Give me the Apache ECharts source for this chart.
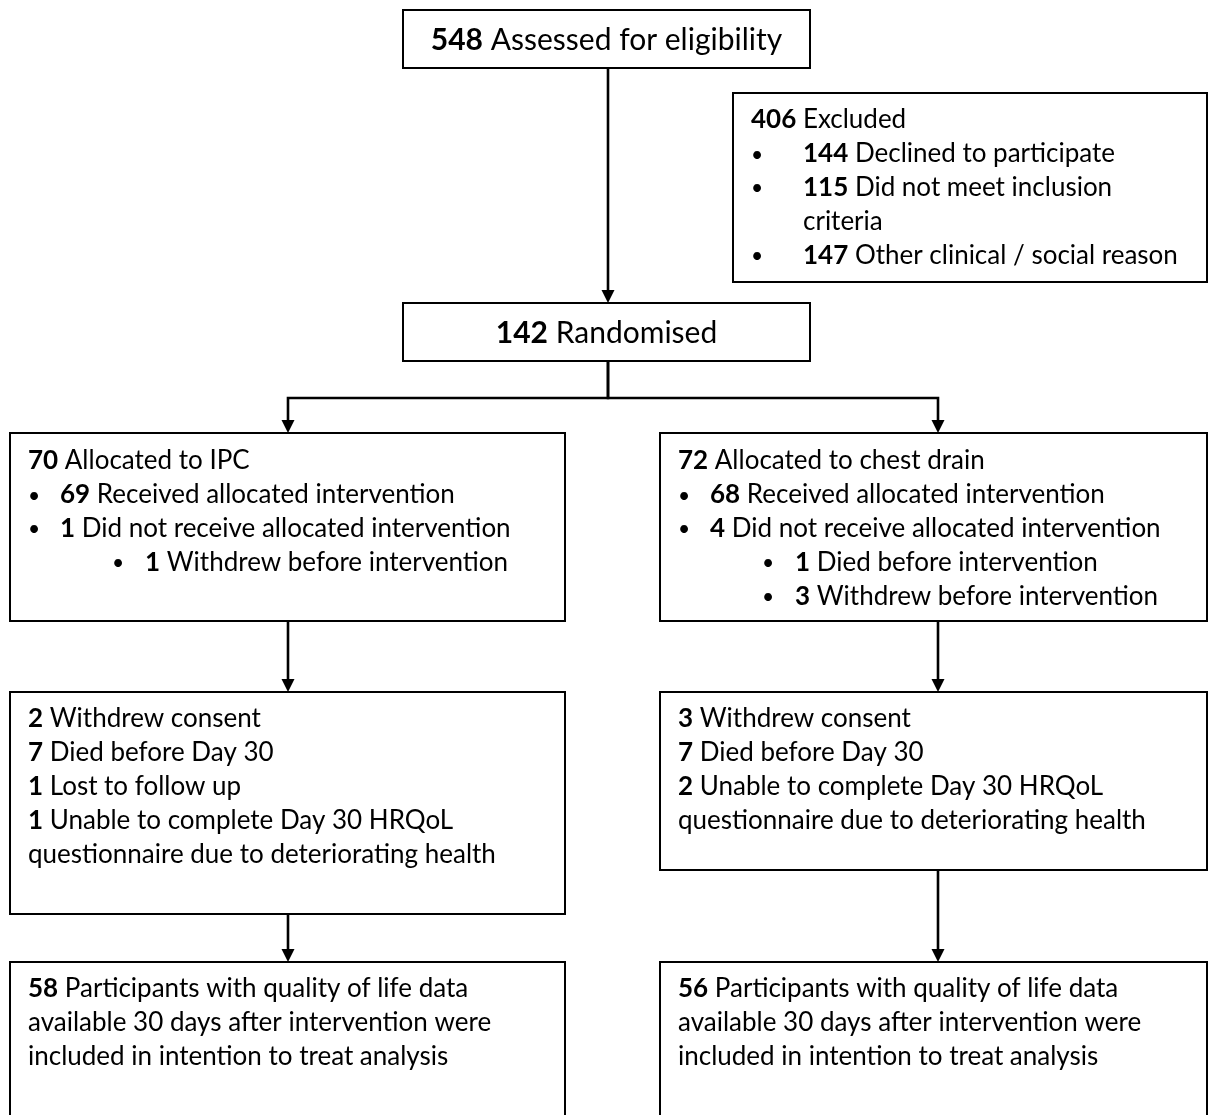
<!DOCTYPE html>
<html><head><meta charset="utf-8">
<script src="https://cdn.jsdelivr.net/npm/echarts/dist/echarts.min.js"></script>
<style>html,body{margin:0;padding:0;background:#fff}#c{width:1208px;height:1115px}</style>
</head><body><div id="c"></div>
<script>
// ---- content (counts and labels) ----
const boxNames = ['assessed','excluded','randomised','allocIPC','allocDrain','lossIPC','lossDrain','analysedIPC','analysedDrain'];
const assessedLines = [['c','548','Assessed for eligibility']];
const excludedLines = [['h','406','Excluded'],['e','144','Declined to participate'],['e','115','Did not meet inclusion'],['ec','','criteria'],['e','147','Other clinical / social reason']];
const randomisedLines = [['c','142','Randomised']];
const allocIPCLines = [['h','70','Allocated to IPC'],['b','69','Received allocated intervention'],['b','1','Did not receive allocated intervention'],['s','1','Withdrew before intervention']];
const allocDrainLines = [['h','72','Allocated to chest drain'],['b','68','Received allocated intervention'],['b','4','Did not receive allocated intervention'],['s','1','Died before intervention'],['s','3','Withdrew before intervention']];
const lossIPCLines = [['h','2','Withdrew consent'],['h','7','Died before Day 30'],['h','1','Lost to follow up'],['h','1','Unable to complete Day 30 HRQoL'],['h','','questionnaire due to deteriorating health']];
const lossDrainLines = [['h','3','Withdrew consent'],['h','7','Died before Day 30'],['h','2','Unable to complete Day 30 HRQoL'],['h','','questionnaire due to deteriorating health']];
const analysedIPCLines = [['h','58','Participants with quality of life data'],['h','','available 30 days after intervention were'],['h','','included in intention to treat analysis']];
const analysedDrainLines = [['h','56','Participants with quality of life data'],['h','','available 30 days after intervention were'],['h','','included in intention to treat analysis']];
const links = [['assessed','randomised'],['randomised','allocIPC'],['randomised','allocDrain'],['allocIPC','lossIPC'],['allocDrain','lossDrain'],['lossIPC','analysedIPC'],['lossDrain','analysedDrain']];

const boxText = {assessed:assessedLines,excluded:excludedLines,randomised:randomisedLines,allocIPC:allocIPCLines,allocDrain:allocDrainLines,lossIPC:lossIPCLines,lossDrain:lossDrainLines,analysedIPC:analysedIPCLines,analysedDrain:analysedDrainLines};

// ---- layout (positions in chart units) ----
const layout = {
  assessed:     {r:[403,10,810,68],   y0:40,  col:608},
  excluded:     {r:[733,93,1207,282], y0:120, col:970},
  randomised:   {r:[403,303,810,361], y0:333, col:608},
  allocIPC:     {r:[10,433,565,621],  y0:461, col:288},
  allocDrain:   {r:[660,433,1207,621],y0:461, col:938},
  lossIPC:      {r:[10,692,565,914],  y0:719, col:288},
  lossDrain:    {r:[660,692,1207,870],y0:719, col:938},
  analysedIPC:  {r:[10,962,565,1125], y0:989, col:288},
  analysedDrain:{r:[660,962,1207,1125],y0:989, col:938}
};
const lineGap = 33.8;
const branchY = 398;
// indents: [bullet centre offset, text offset]
const indent = {h:[null,18], e:[24,70], ec:[null,70], b:[24,50], s:[108,135]};

const FONT = 'Lato';
const FS = 26;
const FS_TITLE = 30;
function richFor(fs){
  return {
    b:{fontFamily:FONT,fontSize:fs,fontWeight:'bold',fill:'#000'},
    n:{fontFamily:FONT,fontSize:fs,fill:'#000'}
  };
}

const chart = echarts.init(document.getElementById('c'));
chart.setOption({
  animation:false,
  grid:{left:0,right:0,top:0,bottom:0},
  xAxis:{type:'value',min:0,max:1208,show:false},
  yAxis:{type:'value',min:0,max:1115,inverse:true,show:false},
  series:[
    {
      type:'custom', clip:false,
      data: boxNames.map((n,i)=>[i,0]),
      renderItem:function(params, api){
        const name = boxNames[api.value(0)];
        const L = layout[name];
        const p1 = api.coord([L.r[0],L.r[1]]), p2 = api.coord([L.r[2],L.r[3]]);
        const children = [{
          type:'rect',
          shape:{x:p1[0],y:p1[1],width:p2[0]-p1[0],height:p2[1]-p1[1]},
          style:{fill:'#fff',stroke:'#000',lineWidth:2}
        }];
        boxText[name].forEach((ln,k)=>{
          const kind = ln[0];
          const y = api.coord([0, L.y0 + k*lineGap])[1];
          const txt = (ln[1] ? '{b|'+ln[1]+'} ' : '') + '{n|'+ln[2]+'}';
          if (kind==='c'){
            const cx = api.coord([(L.r[0]+L.r[2])/2,0])[0];
            children.push({type:'text',style:{text:txt,rich:richFor(FS_TITLE),x:cx,y:y,align:'center',verticalAlign:'middle',fontFamily:FONT,fontSize:FS_TITLE}});
            return;
          }
          const ind = indent[kind];
          if (ind[0]!==null){
            const bx = api.coord([L.r[0]+ind[0],0])[0];
            children.push({type:'text',style:{text:'•',x:bx,y:y+1,align:'center',verticalAlign:'middle',fontFamily:FONT,fontSize:21,fill:'#000'}});
          }
          const tx = api.coord([L.r[0]+ind[1],0])[0];
          children.push({type:'text',style:{text:txt,rich:richFor(FS),x:tx,y:y,align:'left',verticalAlign:'middle',fontFamily:FONT,fontSize:FS}});
        });
        return {type:'group',children:children};
      }
    },
    {
      type:'custom', clip:false,
      data: links.map((l,i)=>[i,0]),
      renderItem:function(params, api){
        const lk = links[api.value(0)];
        const S = layout[lk[0]], T = layout[lk[1]];
        const pts = [[S.col,S.r[3]]];
        if (S.col!==T.col){ pts.push([S.col,branchY]); pts.push([T.col,branchY]); }
        pts.push([T.col,T.r[1]]);
        const px = pts.map(p=>api.coord(p));
        const end = px[px.length-1];
        const ah = 13, aw = 6.5;
        const lineEnd = px.slice(); lineEnd[lineEnd.length-1] = [end[0], end[1]-ah+2];
        return {type:'group',children:[
          {type:'polyline',shape:{points:lineEnd},style:{stroke:'#000',lineWidth:2.6,fill:null}},
          {type:'polygon',shape:{points:[[end[0]-aw,end[1]-ah],[end[0]+aw,end[1]-ah],[end[0],end[1]]]},style:{fill:'#000'}}
        ]};
      }
    }
  ]
});
</script></body></html>
